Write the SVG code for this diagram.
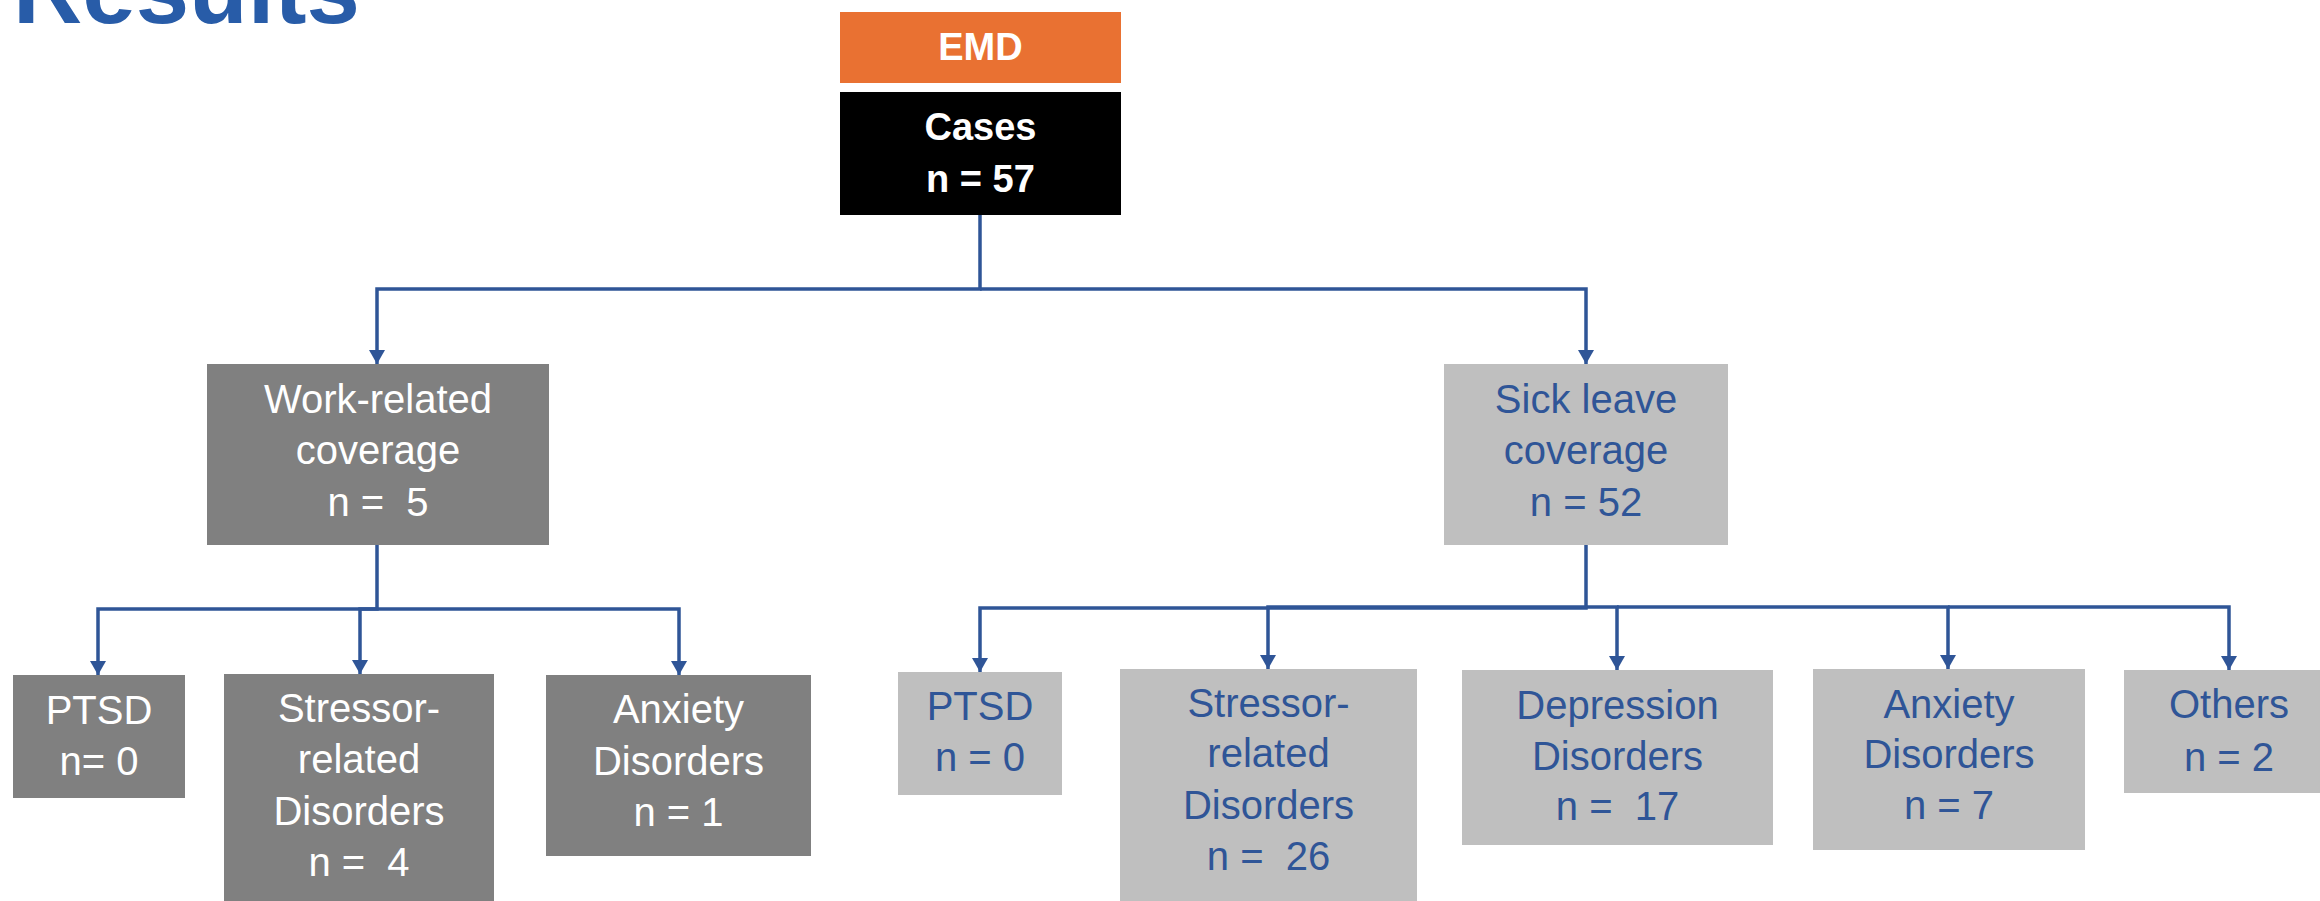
<svg xmlns="http://www.w3.org/2000/svg" width="2320" height="901" viewBox="0 0 2320 901">
<style>
.t{font-family:"Liberation Sans",Arial,sans-serif;font-size:40px;text-anchor:middle;white-space:pre}
.w{fill:#ffffff}
.b{fill:#2F5597}
.bold{font-weight:bold;font-size:38px;fill:#ffffff}
.dk{fill:#808080}
.lt{fill:#BFBFBF}
.c{fill:none;stroke:#2F5597;stroke-width:3.5;marker-end:url(#ah)}
</style>
<defs>
<marker id="ah" markerUnits="userSpaceOnUse" markerWidth="16" markerHeight="16" refX="14" refY="8" orient="auto">
<path d="M0,0 L14,8 L0,16 Z" fill="#2F5597"/>
</marker>
</defs>
<rect width="2320" height="901" fill="#ffffff"/>
<text x="13" y="23" style="font-family:'Liberation Sans',Arial,sans-serif;font-weight:bold;font-size:96px;fill:#285CA8">Results</text>

<g id="connectors">
<path class="c" d="M980,215 V289 H377 V364"/>
<path class="c" d="M980,289 H1586 V364"/>
<path class="c" d="M377,545 V609 H98 V675"/>
<path class="c" d="M377,609 H360 V674"/>
<path class="c" d="M377,609 H679 V675"/>
<path class="c" d="M1586,545 V608 H980 V672"/>
<path class="c" d="M1586,607 H1268 V669"/>
<path class="c" d="M1586,607 H1617 V670"/>
<path class="c" d="M1617,607 H1948 V669"/>
<path class="c" d="M1948,607 H2229 V670"/>
</g>

<g id="emd">
<rect x="840" y="12" width="281" height="71" fill="#E97132"/>
<text class="t bold" x="980.5" y="60">EMD</text>
</g>
<g id="cases">
<rect x="840" y="92" width="281" height="123" fill="#000000"/>
<text class="t bold" x="980.5" y="140">Cases</text>
<text class="t bold" x="980.5" y="192">n = 57</text>
</g>

<g id="work">
<rect class="dk" x="207" y="364" width="342" height="181"/>
<text class="t w" x="378" y="413">Work-related</text>
<text class="t w" x="378" y="464">coverage</text>
<text class="t w" x="378" y="516">n =  5</text>
</g>
<g id="sick">
<rect class="lt" x="1444" y="364" width="284" height="181"/>
<text class="t b" x="1586" y="413">Sick leave</text>
<text class="t b" x="1586" y="464">coverage</text>
<text class="t b" x="1586" y="516">n = 52</text>
</g>

<g id="ptsd-w">
<rect class="dk" x="13" y="675" width="172" height="123"/>
<text class="t w" x="99" y="724">PTSD</text>
<text class="t w" x="99" y="775">n= 0</text>
</g>
<g id="stressor-w">
<rect class="dk" x="224" y="674" width="270" height="230"/>
<text class="t w" x="359" y="722">Stressor-</text>
<text class="t w" x="359" y="773">related</text>
<text class="t w" x="359" y="825">Disorders</text>
<text class="t w" x="359" y="876">n =  4</text>
</g>
<g id="anxiety-w">
<rect class="dk" x="546" y="675" width="265" height="181"/>
<text class="t w" x="678.5" y="723">Anxiety</text>
<text class="t w" x="678.5" y="775">Disorders</text>
<text class="t w" x="678.5" y="826">n = 1</text>
</g>

<g id="ptsd-s">
<rect class="lt" x="898" y="672" width="164" height="123"/>
<text class="t b" x="980" y="720">PTSD</text>
<text class="t b" x="980" y="771">n = 0</text>
</g>
<g id="stressor-s">
<rect class="lt" x="1120" y="669" width="297" height="235"/>
<text class="t b" x="1268.5" y="717">Stressor-</text>
<text class="t b" x="1268.5" y="767">related</text>
<text class="t b" x="1268.5" y="819">Disorders</text>
<text class="t b" x="1268.5" y="870">n =  26</text>
</g>
<g id="depression-s">
<rect class="lt" x="1462" y="670" width="311" height="175"/>
<text class="t b" x="1617.5" y="719">Depression</text>
<text class="t b" x="1617.5" y="770">Disorders</text>
<text class="t b" x="1617.5" y="820">n =  17</text>
</g>
<g id="anxiety-s">
<rect class="lt" x="1813" y="669" width="272" height="181"/>
<text class="t b" x="1949" y="718">Anxiety</text>
<text class="t b" x="1949" y="768">Disorders</text>
<text class="t b" x="1949" y="819">n = 7</text>
</g>
<g id="others-s">
<rect class="lt" x="2124" y="670" width="210" height="123"/>
<text class="t b" x="2229" y="718">Others</text>
<text class="t b" x="2229" y="771">n = 2</text>
</g>
</svg>
